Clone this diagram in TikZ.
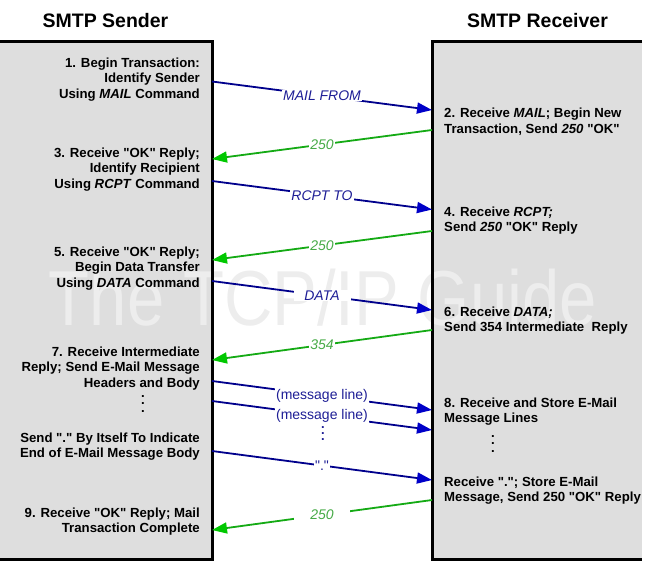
\documentclass[tikz,border=0pt]{standalone}
\usepackage{fontspec}
\setmainfont{Liberation Sans}[Ligatures=TeXOff]
\usetikzlibrary{arrows.meta}
\definecolor{boxgray}{RGB}{222,222,222}
\definecolor{wmgray}{RGB}{237,237,237}
\definecolor{bline}{RGB}{0,0,140}
\definecolor{btip}{RGB}{0,0,200}
\definecolor{btext}{RGB}{30,30,150}
\definecolor{gline}{RGB}{20,170,20}
\definecolor{gtip}{RGB}{0,200,0}
\definecolor{gtext}{RGB}{70,170,70}
\newcommand{\bigvdots}{\vbox{\baselineskip=7.5pt\lineskiplimit=-20pt\hbox{.}\hbox{.}\hbox{.}}}
\newcommand{\smallvdots}{\vbox{\baselineskip=6pt\lineskiplimit=-20pt\hbox{.}\hbox{.}\hbox{.}}}
\begin{document}
\begin{tikzpicture}[x=1pt,y=-1pt,
  header/.style={font=\fontsize{19.5}{22}\selectfont\bfseries, inner sep=0},
  lefttext/.style={font=\fontsize{13.2}{15.5}\selectfont\bfseries, align=right, anchor=east, inner sep=0},
  righttext/.style={font=\fontsize{13.2}{15.5}\selectfont\bfseries, align=left, anchor=west, inner sep=0},
  dotsnode/.style={font=\fontsize{13.2}{15.5}\selectfont\bfseries, inner sep=0},
  sendarrow/.style={draw=bline, line width=1.8pt, -{Triangle[length=15pt,width=11pt,color=btip]}},
  replyarrow/.style={draw=gline, line width=1.8pt, -{Triangle[length=15pt,width=11pt,color=gtip]}},
  cmdlabel/.style={font=\fontsize{14}{16}\selectfont\itshape, text=btext, fill=white, inner xsep=1pt, inner ysep=0.5pt},
  msglabel/.style={font=\fontsize{14}{16}\selectfont, text=btext, fill=white, inner xsep=1pt, inner ysep=0.5pt},
  replylabel/.style={font=\fontsize{14}{16}\selectfont\itshape, text=gtext, fill=white, inner xsep=1pt, inner ysep=0.5pt},
  boxborder/.style={draw=black, line width=3pt},
]
\useasboundingbox (0,0) rectangle (647,566);
% box fills
\fill[boxgray] (0,40) rectangle (212,560);
\fill[boxgray] (432,40) rectangle (642,560);
% watermark
\node[font=\fontsize{78}{80}\selectfont, text=wmgray, xscale=0.86, transform shape, inner sep=0] (wm) at (323,298) {The TCP/IP Guide};
% borders
\draw[boxborder] (0,41.5) -- (212,41.5) -- (212,559.5) -- (0,559.5);
\draw[boxborder] (642,41.5) -- (432,41.5) -- (432,559.5) -- (642,559.5);
% headers
\node[header] (hs) at (105.5,21) {SMTP Sender};
\node[header] (hr) at (537.5,21) {SMTP Receiver};
% left texts
\node[lefttext] (l1) at (200,79.3) {1. Begin Transaction:\\Identify Sender\\Using \textit{MAIL} Command};
\node[lefttext] (l3) at (200,169.3) {3. Receive "OK" Reply;\\Identify Recipient\\Using \textit{RCPT} Command};
\node[lefttext] (l5) at (200,268.3) {5. Receive "OK" Reply;\\Begin Data Transfer\\Using \textit{DATA} Command};
\node[lefttext] (l7) at (200,368.3) {7. Receive Intermediate\\Reply; Send E-Mail Message\\Headers and Body};
\node[dotsnode] (ld) at (143,404) {\bigvdots};
\node[lefttext] (l8) at (200,446.8) {Send "." By Itself To Indicate\\End of E-Mail Message Body};
\node[lefttext] (l9) at (200,521.8) {9. Receive "OK" Reply; Mail\\Transaction Complete};
% right texts
\node[righttext] (r2) at (444,121.5) {2. Receive \textit{MAIL}; Begin New\\Transaction, Send \textit{250} "OK"};
\node[righttext] (r4) at (444,220.8) {4. Receive \textit{RCPT;}\\Send \textit{250} "OK" Reply};
\node[righttext] (r6) at (444,320.8) {6. Receive \textit{DATA;}\\Send 354 Intermediate\ \ Reply};
\node[righttext] (r8) at (444,411.8) {8. Receive and Store E-Mail\\Message Lines};
\node[dotsnode] (rd) at (493,444) {\bigvdots};
\node[righttext] (r10) at (444,490.8) {Receive "."; Store E-Mail\\Message, Send 250 "OK" Reply};
% arrow end points
\coordinate (s1) at (212,81.5);  \coordinate (e1) at (432,110);
\coordinate (s2) at (432,130);   \coordinate (e2) at (212,159);
\coordinate (s3) at (212,181);   \coordinate (e3) at (432,209.5);
\coordinate (s4) at (432,231);   \coordinate (e4) at (212,260);
\coordinate (s5) at (212,281);   \coordinate (e5) at (432,310);
\coordinate (s6) at (432,330);   \coordinate (e6) at (212,360);
\coordinate (s7) at (212,381);   \coordinate (e7) at (432,410);
\coordinate (s8) at (212,401);   \coordinate (e8) at (432,430);
\coordinate (s9) at (212,451);   \coordinate (e9) at (432,480);
\coordinate (s10) at (432,500);  \coordinate (e10) at (212,530);
% arrows
\draw[sendarrow] (s1) -- node[cmdlabel] (t1) {MAIL FROM} (e1);
\draw[replyarrow] (s2) -- node[replylabel] (t2) {250} (e2);
\draw[sendarrow] (s3) -- node[cmdlabel] (t3) {RCPT TO} (e3);
\draw[replyarrow] (s4) -- node[replylabel] (t4) {250} (e4);
\draw[sendarrow] (s5) -- node[cmdlabel, minimum width=57pt] (t5) {DATA} (e5);
\draw[replyarrow] (s6) -- node[replylabel] (t6) {354} (e6);
\draw[sendarrow] (s7) -- node[msglabel] (t7) {(message line)} (e7);
\draw[sendarrow] (s8) -- node[msglabel] (t8) {(message line)} (e8);
\node[font=\fontsize{13}{14}\selectfont\bfseries, text=btext, inner sep=0] (md) at (323,434) {\smallvdots};
\draw[sendarrow] (s9) -- node[msglabel] (t9) {"."} (e9);
\draw[replyarrow] (s10) -- node[replylabel, minimum width=56pt] (t10) {250} (e10);
\end{tikzpicture}
\end{document}
